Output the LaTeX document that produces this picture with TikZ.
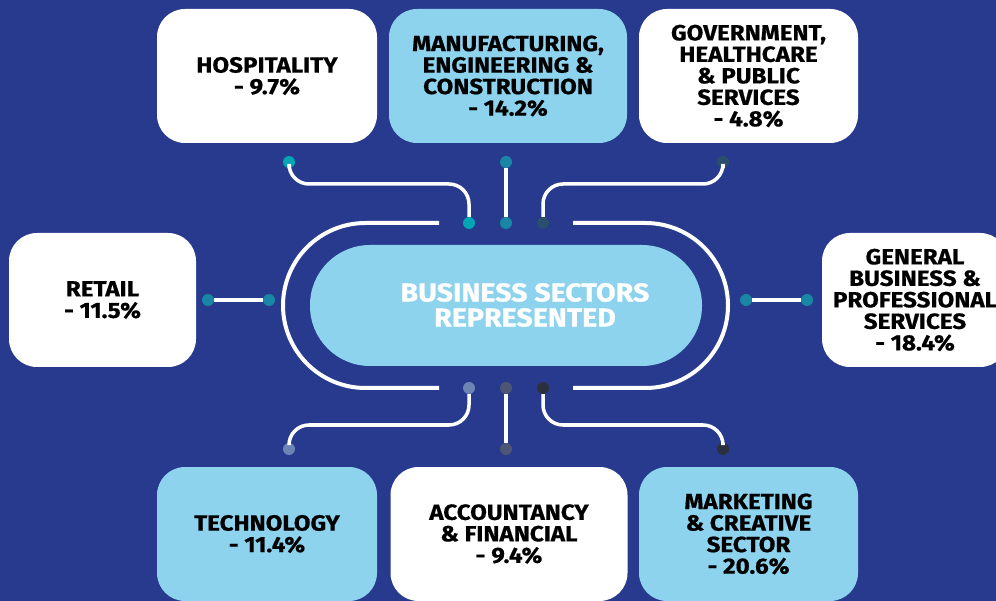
\documentclass[tikz,border=0pt]{standalone}
\usepackage{fontspec}
\setmainfont{Fira Sans}[BoldFeatures={FakeStretch=1.1,FakeBold=0.6}]
\definecolor{bgblue}{HTML}{283A8E}
\definecolor{skyblue}{HTML}{8DD3EE}
\definecolor{tealdot}{HTML}{00A6B4}
\definecolor{oceandot}{HTML}{1A86A6}
\definecolor{slatedot}{HTML}{2B4E6C}
\definecolor{greydot}{HTML}{6C85B5}
\definecolor{steeldot}{HTML}{4E5675}
\definecolor{inkdot}{HTML}{2B303F}

\begin{document}
\begin{tikzpicture}[x=1pt,y=-1pt,
    sector/.style={rounded corners=28pt,inner sep=0pt,align=center,minimum height=134pt,font=\bfseries\fontsize{22}{21.5}\selectfont},
    pin/.style={circle,inner sep=0pt,minimum size=12pt,fill=#1},
    wire/.style={white,line width=3.5pt,rounded corners=20pt}]
    \useasboundingbox (0,0) rectangle (996,601);
    \fill[bgblue] (0,0) rectangle (996,601);

    \node[sector,fill=white,minimum width=220pt] (hosp) at (267,76) {HOSPITALITY\\- 9.7\%};
    \node[sector,fill=skyblue,minimum width=238pt] (manuf) at (508,76) {MANUFACTURING,\\ENGINEERING \&\\CONSTRUCTION\\- 14.2\%};
    \node[sector,fill=white,minimum width=219pt] (gov) at (748.5,76) {GOVERNMENT,\\HEALTHCARE\\\& PUBLIC\\SERVICES\\- 4.8\%};
    \node[sector,fill=white,minimum width=187pt] (retail) at (102.5,300) {RETAIL\\- 11.5\%};
    \node[sector,fill=white,minimum width=186pt] (general) at (915,300) {GENERAL\\BUSINESS \&\\PROFESSIONAL\\SERVICES\\- 18.4\%};
    \node[sector,fill=skyblue,minimum width=220pt] (tech) at (267,534) {TECHNOLOGY\\- 11.4\%};
    \node[sector,fill=white,minimum width=237pt] (acc) at (509,534) {ACCOUNTANCY\\\& FINANCIAL\\- 9.4\%};
    \node[sector,fill=skyblue,minimum width=219pt] (mkt) at (748.5,534) {MARKETING\\\& CREATIVE\\SECTOR\\- 20.6\%};

    \node[fill=skyblue,rounded corners=60pt,minimum width=392pt,minimum height=121pt] (hub) at (506,305.5) {};
    \node[white,align=center,font=\bfseries\fontsize{26}{25}\selectfont] (hubtext) at (525,305) {BUSINESS SECTORS\\REPRESENTED};

    \draw[white,line width=4pt] (439,223) -- (365.5,223) arc[start angle=270,end angle=90,radius=82.5] -- (439,388);
    \draw[white,line width=4pt] (573,223) -- (645.5,223) arc[start angle=-90,end angle=90,radius=82.5] -- (573,388);

    \coordinate (topbus) at (506,184);
    \coordinate (lowbus) at (506,425);

    \node[pin=tealdot] (hospdot) at (289,162) {};
    \node[pin=oceandot] (manufdot) at (506,162) {};
    \node[pin=slatedot] (govdot) at (723,162) {};
    \node[pin=tealdot] (hospin) at (469,223) {};
    \node[pin=oceandot] (manufin) at (506,223) {};
    \node[pin=slatedot] (govin) at (543,223) {};
    \node[pin=greydot] (techin) at (469,388) {};
    \node[pin=steeldot] (accin) at (506,388) {};
    \node[pin=inkdot] (mktin) at (543,388) {};
    \node[pin=greydot] (techdot) at (289,449) {};
    \node[pin=steeldot] (accdot) at (506,449) {};
    \node[pin=inkdot] (mktdot) at (723,449) {};
    \node[pin=oceandot] (retaildot) at (208,300) {};
    \node[pin=oceandot] (retailin) at (269,300) {};
    \node[pin=oceandot] (generalin) at (746,300) {};
    \node[pin=oceandot] (generaldot) at (807,300) {};

    \draw[wire] (hospdot) |- (topbus -| hospin) -- (hospin);
    \draw[wire] (manufdot) -- (manufin);
    \draw[wire] (govdot) |- (topbus -| govin) -- (govin);
    \draw[wire] (techin) |- (lowbus -| techdot) -- (techdot);
    \draw[wire] (accin) -- (accdot);
    \draw[wire] (mktin) |- (lowbus -| mktdot) -- (mktdot);
    \draw[wire] (retaildot) -- (retailin);
    \draw[wire] (generalin) -- (generaldot);
\end{tikzpicture}
\end{document}
